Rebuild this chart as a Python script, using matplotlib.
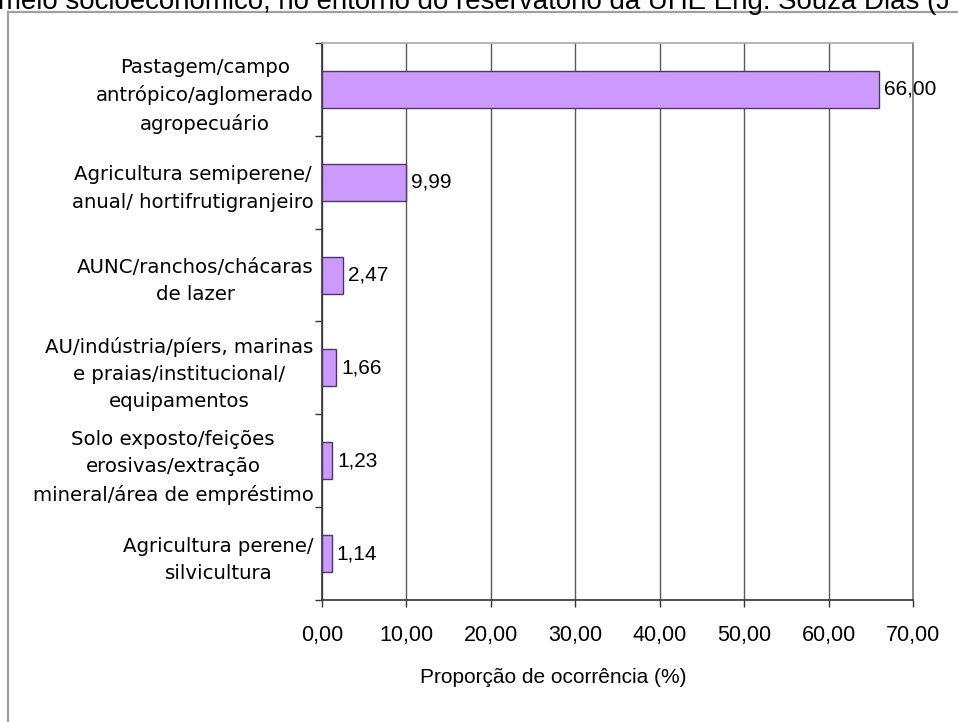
import numpy as np
import matplotlib.pyplot as plt
from matplotlib.lines import Line2D

categorias = [
    "Pastagem/campo\nantrópico/aglomerado\nagropecuário",
    "Agricultura semiperene/\nanual/ hortifrutigranjeiro",
    "AUNC/ranchos/chácaras\nde lazer",
    "AU/indústria/píers, marinas\ne praias/institucional/\nequipamentos",
    "Solo exposto/feições\nerosivas/extração\nmineral/área de empréstimo",
    "Agricultura perene/\nsilvicultura",
]
proporcao = [66.00, 9.99, 2.47, 1.66, 1.23, 1.14]
xticks = [0, 10, 20, 30, 40, 50, 60, 70]

titulo = "meio socioeconômico, no entorno do reservatório da UHE Eng. Souza Dias (J"

plt.rcParams['font.family'] = ['Liberation Sans', 'DejaVu Sans']
narrow = ['Liberation Sans Narrow', 'Liberation Sans']

fig = plt.figure(figsize=(9.58, 7.22), dpi=100)
W, H = 958, 722
ax = fig.add_axes([322 / W, 1 - 600 / H, (913 - 322) / W, (600 - 43) / H])

y = np.arange(len(categorias))
ax.barh(y, proporcao, height=0.4, color='#CC99FF', edgecolor='#4A3860', linewidth=1, zorder=3)

for yi, v in zip(y, proporcao):
    ax.annotate(f"{v:.2f}".replace('.', ','), (v, yi), xytext=(3.6, 0),
                textcoords='offset points', va='center', ha='left', fontsize=15, zorder=4)

ax.set_xlim(0, 70)
ax.set_ylim(len(categorias) - 0.5, -0.5)
ax.set_xticks(xticks)
ax.set_xticklabels([f"{t:.2f}".replace('.', ',') for t in xticks], fontsize=15.5, family=narrow)
ax.tick_params(axis='x', direction='out', length=5, width=1, color='#333333', pad=13)

ax.set_yticks(y)
ax.set_yticklabels(categorias, fontsize=14.2, linespacing=1.55, family=['DejaVu Sans'])
for lab in ax.get_yticklabels():
    lab.set_multialignment('center')
ax.tick_params(axis='y', length=0, pad=6)
ax.set_yticks(np.arange(-0.5, len(categorias)), minor=True)
ax.tick_params(axis='y', which='minor', direction='out', length=5, width=1, color='#333333')

ax.grid(axis='x', color='#5a5a5a', linewidth=1, zorder=0)
ax.set_axisbelow(True)

for s in ['left', 'bottom']:
    ax.spines[s].set_color('#333333')
    ax.spines[s].set_linewidth(1.2)
ax.spines['top'].set_color('#AAAAAA')
ax.spines['right'].set_color('#777777')
ax.spines['top'].set_linewidth(1.2)
ax.spines['right'].set_linewidth(1.2)

ax.set_xlabel("Proporção de ocorrência (%)", fontsize=15, family=narrow)
ax.xaxis.set_label_coords((553 - 322) / 591, -(668 - 600) / 557)

# moldura externa
fig.add_artist(Line2D([8 / W, 8 / W], [0, 1 - 12 / H], transform=fig.transFigure,
                      color='#A0A0A0', linewidth=1.6))
fig.add_artist(Line2D([8 / W, 1], [1 - 12 / H, 1 - 12 / H], transform=fig.transFigure,
                      color='#A0A0A0', linewidth=1.6))

fig.text(-2 / W, 1 - 9 / H, titulo, fontsize=19.9, ha='left', va='baseline', family=narrow)

fig.savefig('out.png', dpi=100)
